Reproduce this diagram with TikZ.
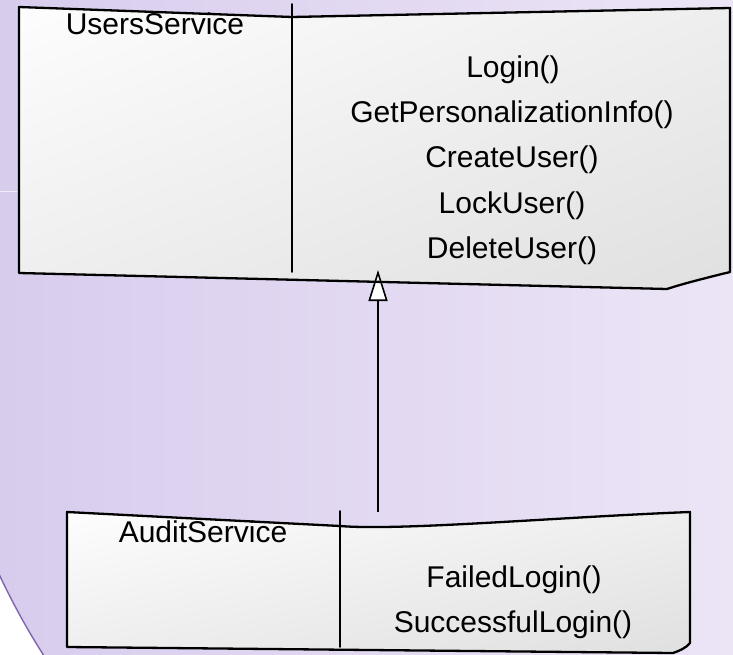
\documentclass[tikz,border=0pt]{standalone}
\usepackage{fontspec}
\setmainfont{Liberation Sans}
\usetikzlibrary{arrows.meta,shadings}

\definecolor{bgleft}{RGB}{216,204,237}
\definecolor{bgright}{RGB}{236,229,246}
\definecolor{rim}{RGB}{128,100,176}
\definecolor{streak}{RGB}{240,236,248}
\definecolor{boxlight}{RGB}{253,253,253}
\definecolor{boxmid}{RGB}{238,238,238}
\definecolor{boxdark}{RGB}{224,224,224}

\tikzset{
  sketch/.style={draw=black, line width=2.3pt, line join=round, line cap=round},
  divider/.style={draw=black, line width=1.7pt, line cap=round},
  boxshade/.style={lower left=boxmid, upper left=boxlight, upper right=boxmid, lower right=boxdark},
  txt/.style={font=\fontsize{30}{36}\selectfont, inner sep=0pt, anchor=base},
  generalization/.style={line width=1.6pt,
    -{Triangle[open, fill=white, length=31pt, width=19pt]}},
}

\begin{document}
\begin{tikzpicture}[x=1pt, y=-1pt]
\useasboundingbox (0,0) rectangle (733,655);

% backdrop: a large lavender disc over a white page
\fill[white] (0,0) rectangle (733,655);
\begin{scope}
  \clip (634,279) circle (700pt);
  \shade[left color=bgleft, right color=bgright] (0,0) rectangle (733,655);
\end{scope}
\draw[rim, line width=1.4pt] (634,279) circle (700pt);
\draw[streak, line width=0.8pt] (0,191) -- (20,191);

% corner points of the two class boxes
\coordinate (u-tl) at (19,7);
\coordinate (u-tm) at (292,17);
\coordinate (u-tr) at (730,8);
\coordinate (u-br) at (730,272);
\coordinate (u-curl) at (667,289);
\coordinate (u-bl) at (19,273);
\coordinate (u-divtop) at (292,4);
\coordinate (u-divbot) at (292,272);

\coordinate (a-tl) at (67,512);
\coordinate (a-tm) at (340,526);
\coordinate (a-tr) at (690,512);
\coordinate (a-br) at (690,643);
\coordinate (a-curl) at (673,653);
\coordinate (a-bl) at (67,647);
\coordinate (a-divtop) at (340,511);
\coordinate (a-divbot) at (340,647);

% box bodies
\shade[boxshade] (u-tl) -- (u-tm) -- (u-tr) -- (u-br)
  .. controls (710,277) and (685,283) .. (u-curl) -- (u-bl) -- cycle;
\shade[boxshade] (a-tl) -- (a-tm) .. controls (400,531) and (560,517) .. (a-tr)
  -- (a-br) .. controls (686,648) and (679,651) .. (a-curl) -- (a-bl) -- cycle;

% inheritance connector
\coordinate (auditTop) at (378,512);
\coordinate (usersBottom) at (378,270);
\draw[generalization] (auditTop) -- (usersBottom);

% box outlines and compartment dividers
\draw[sketch] (u-tl) -- (u-tm) -- (u-tr) -- (u-br)
  .. controls (710,277) and (685,283) .. (u-curl) -- (u-bl) -- cycle;
\draw[divider] (u-divtop) -- (u-divbot);
\draw[sketch] (a-tl) -- (a-tm) .. controls (400,531) and (560,517) .. (a-tr)
  -- (a-br) .. controls (686,648) and (679,651) .. (a-curl) -- (a-bl) -- cycle;
\draw[divider] (a-divtop) -- (a-divbot);

% texts
\node[txt] (usersName) at (155,35) {UsersService};
\node[txt] (mLogin) at (513,78) {Login()};
\node[txt] (mPers) at (512,123) {GetPersonalizationInfo()};
\node[txt] (mCreate) at (512,168) {CreateUser()};
\node[txt] (mLock) at (512,213) {LockUser()};
\node[txt] (mDelete) at (512,258) {DeleteUser()};

\node[txt] (auditName) at (203,542) {AuditService};
\node[txt] (mFailed) at (514,587) {FailedLogin()};
\node[txt] (mSuccess) at (513,632) {SuccessfulLogin()};
\end{tikzpicture}
\end{document}
